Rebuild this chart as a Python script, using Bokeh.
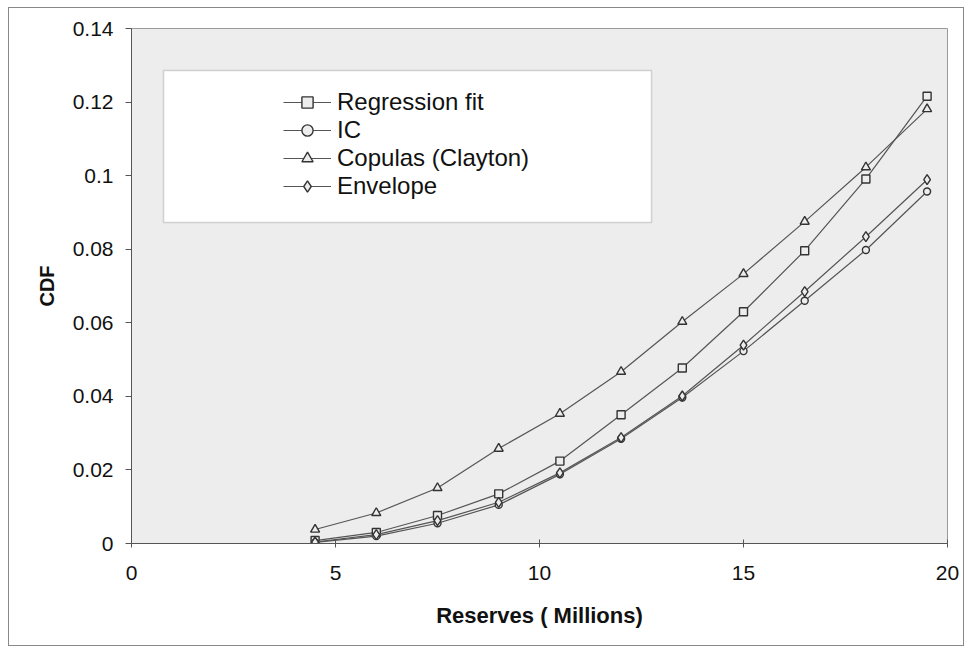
from bokeh.plotting import figure
from bokeh.models import Legend, LegendItem, BoxAnnotation, FixedTicker
from bokeh.embed import file_html
from bokeh.resources import INLINE

# data
reserves = [4.5, 6, 7.5, 9, 10.5, 12, 13.5, 15, 16.5, 18, 19.5]
regression_fit = [0.0008, 0.0030, 0.0076, 0.0135, 0.0224, 0.0350, 0.0477, 0.0630, 0.0796, 0.0991, 0.1216]
ic = [0.0003, 0.0020, 0.0055, 0.0105, 0.0188, 0.0285, 0.0397, 0.0523, 0.0660, 0.0798, 0.0957]
copulas = [0.0038, 0.0083, 0.0151, 0.0258, 0.0353, 0.0467, 0.0603, 0.0733, 0.0875, 0.1023, 0.1181]
envelope = [0.0004, 0.0024, 0.0062, 0.0112, 0.0192, 0.0288, 0.0401, 0.0539, 0.0685, 0.0834, 0.0989]

x_ticks = [0, 5, 10, 15, 20]
y_ticks = [0, 0.02, 0.04, 0.06, 0.08, 0.1, 0.12, 0.14]
y_tick_labels = ["0", "0.02", "0.04", "0.06", "0.08", "0.1", "0.12", "0.14"]

FONT = "Liberation Sans"
W, H = 956, 639

p = figure(width=W, height=H, output_backend="svg", toolbar_location=None,
           x_range=(0, 20), y_range=(0, 0.14),
           min_border_left=122, min_border_right=18, min_border_top=20, min_border_bottom=104)
p.styles = {"margin-left": "8px", "margin-top": "7px", "border": "1.5px solid #888888"}
p.background_fill_color = "#ededed"
p.border_fill_color = "white"
p.outline_line_color = "#9a9a9a"
p.grid.visible = False

for ax in (p.xaxis[0], p.yaxis[0]):
    ax.axis_line_color = "#555555"
    ax.major_tick_line_color = "#555555"
    ax.minor_tick_line_color = None
    ax.major_label_text_font = FONT
    ax.major_label_text_font_size = "21px"
    ax.major_label_text_color = "#111111"
    ax.axis_label_text_font = FONT
    ax.axis_label_text_font_style = "bold"
    ax.axis_label_text_color = "#111111"

p.xaxis.ticker = FixedTicker(ticks=x_ticks)
p.yaxis.ticker = FixedTicker(ticks=y_ticks)
p.yaxis.major_label_overrides = {t: l for t, l in zip(y_ticks, y_tick_labels)}
p.xaxis.major_tick_in = 4
p.xaxis.major_tick_out = 4
p.yaxis.major_tick_in = 0
p.yaxis.major_tick_out = 6
p.xaxis.major_label_standoff = 18
p.yaxis.major_label_standoff = 12
p.xaxis.axis_label = "Reserves ( Millions)"
p.yaxis.axis_label = "CDF"
p.xaxis.axis_label_text_font_size = "22px"
p.yaxis.axis_label_text_font_size = "20px"
p.xaxis.axis_label_standoff = 20
p.yaxis.axis_label_standoff = 12

LC = "#555555"
MF = "#ededed"
series = [
    ("Regression fit", regression_fit, "square", 8),
    ("IC", ic, "circle", 7),
    ("Copulas (Clayton)", copulas, "triangle", 9),
    ("Envelope", envelope, "diamond", 10),
]
items = []
for name, ys, marker, sz in series:
    l = p.line(reserves, ys, line_color=LC, line_width=1.2)
    s = p.scatter(reserves, ys, marker=marker, size=sz, line_color="#333333",
                  fill_color=MF, line_width=1.4)
    items.append(LegendItem(label=name, renderers=[l, s]))

# legend box background (canvas pixels)
box = BoxAnnotation(left=153, right=641, top=61, bottom=213,
                    left_units="canvas", right_units="canvas",
                    top_units="canvas", bottom_units="canvas",
                    fill_color="white", fill_alpha=1.0,
                    line_color="#777777", line_width=1.5)
p.add_layout(box)

legend = Legend(items=items, location=(152, 343), padding=0, margin=0,
                spacing=0, glyph_width=48, glyph_height=28, label_standoff=6,
                label_text_font=FONT, label_text_font_size="24px",
                label_text_color="#111111", label_height=28,
                background_fill_alpha=0, border_line_color=None)
p.add_layout(legend, "center")

open("out.html", "w").write(file_html(p, INLINE))
